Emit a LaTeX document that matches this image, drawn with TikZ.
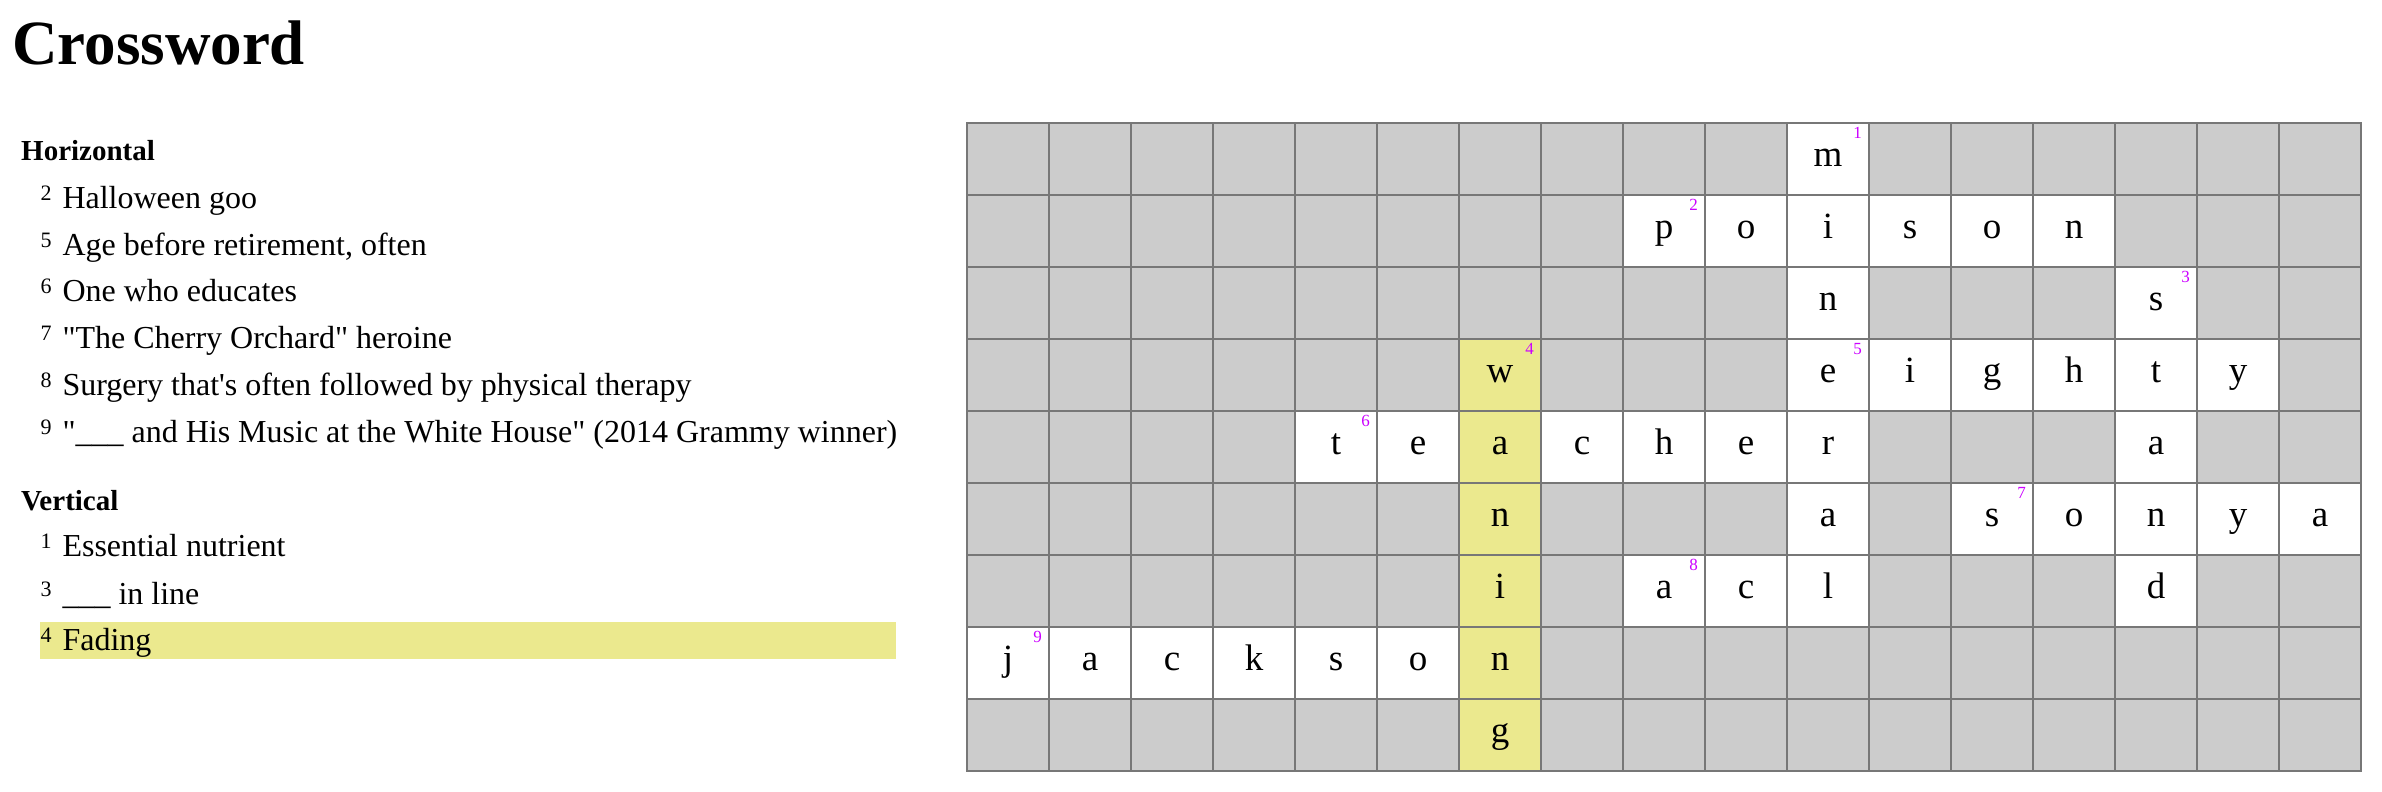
\documentclass[tikz,border=0pt]{standalone}
\usepackage{fontspec}
\setmainfont{Liberation Serif}[Ligatures=TeXOff]
\definecolor{cellgray}{RGB}{204,204,204}
\definecolor{linegray}{RGB}{119,119,119}
\definecolor{hiyellow}{RGB}{235,233,142}
\definecolor{numpurple}{RGB}{204,0,255}
\tikzset{
  cellbox/.style={draw=linegray,line width=1.5pt,fill=cellgray,minimum width=82pt,minimum height=72pt,
    inner sep=0pt,outer sep=0pt,anchor=north west,text height=24pt,text depth=10pt,
    font=\fontsize{37}{40}\selectfont},
  cellnum/.style={anchor=north east,inner sep=0pt,text=numpurple,font=\fontsize{17}{19}\selectfont},
  cluetext/.style={anchor=base west,inner sep=0pt,font=\fontsize{32}{38}\selectfont},
  cluenum/.style={anchor=base west,inner sep=0pt,font=\fontsize{22}{26}\selectfont},
  cluehead/.style={anchor=base west,inner sep=0pt,font=\fontsize{29}{34}\selectfont\bfseries},
}
\begin{document}
\begin{tikzpicture}[x=1pt,y=-1pt]
\useasboundingbox (0,0) rectangle (2382,792);
% title
\node[anchor=base west,inner sep=0pt,font=\fontsize{63}{72}\selectfont\bfseries] (title) at (12,64) {Crossword};
% clues
\node[cluehead] (hor) at (21,160.7) {Horizontal};
\node[cluenum] (hn2) at (40.5,200.3) {2};
\node[cluetext] (h2) at (62.3,208.3) {Halloween goo};
\node[cluenum] (hn5) at (40.5,247) {5};
\node[cluetext] (h5) at (62.3,255) {Age before retirement, often};
\node[cluenum] (hn6) at (40.5,293.7) {6};
\node[cluetext] (h6) at (62.3,301.7) {One who educates};
\node[cluenum] (hn7) at (40.5,340.3) {7};
\node[cluetext] (h7) at (62.3,348.3) {"The Cherry Orchard" heroine};
\node[cluenum] (hn8) at (40.5,387) {8};
\node[cluetext] (h8) at (62.3,395) {Surgery that's often followed by physical therapy};
\node[cluenum] (hn9) at (40.5,434) {9};
\node[cluetext] (h9) at (62.3,442) {"\_\_\_ and His Music at the White House" (2014 Grammy winner)};
\node[cluehead] (ver) at (21,510) {Vertical};
\node[cluenum] (vn1) at (40.5,548.7) {1};
\node[cluetext] (v1) at (62.3,556.7) {Essential nutrient};
\node[cluenum] (vn3) at (40.5,596) {3};
\node[cluetext] (v3) at (62.3,604) {\_\_\_ in line};
\fill[hiyellow] (40,622) rectangle (896,658.7);
\node[cluenum] (vn4) at (40.5,642.7) {4};
\node[cluetext] (v4) at (62.3,650.7) {Fading};
% grid
\foreach \r in {0,...,8}{
  \foreach \c in {0,...,16}{
    \node[cellbox] (cell-\r-\c) at ({967+\c*82},{123+\r*72}) {};
  }
}
\foreach \r/\c/\l/\f in {
  0/10/m/white,
  1/8/p/white,1/9/o/white,1/10/i/white,1/11/s/white,1/12/o/white,1/13/n/white,
  2/10/n/white,2/14/s/white,
  3/6/w/hiyellow,3/10/e/white,3/11/i/white,3/12/g/white,3/13/h/white,3/14/t/white,3/15/y/white,
  4/4/t/white,4/5/e/white,4/6/a/hiyellow,4/7/c/white,4/8/h/white,4/9/e/white,4/10/r/white,4/14/a/white,
  5/6/n/hiyellow,5/10/a/white,5/12/s/white,5/13/o/white,5/14/n/white,5/15/y/white,5/16/a/white,
  6/6/i/hiyellow,6/8/a/white,6/9/c/white,6/10/l/white,6/14/d/white,
  7/0/j/white,7/1/a/white,7/2/c/white,7/3/k/white,7/4/s/white,7/5/o/white,7/6/n/hiyellow,
  8/6/g/hiyellow}{
  \node[cellbox,fill=\f] (cell-\r-\c) at ({967+\c*82},{123+\r*72}) {\l};
}
\foreach \r/\c/\n in {0/10/1,1/8/2,2/14/3,3/6/4,3/10/5,4/4/6,5/12/7,6/8/8,7/0/9}{
  \node[cellnum] (num-\n) at ([xshift=-7pt,yshift=-4pt]cell-\r-\c.north east) {\n};
}
\end{tikzpicture}
\end{document}
